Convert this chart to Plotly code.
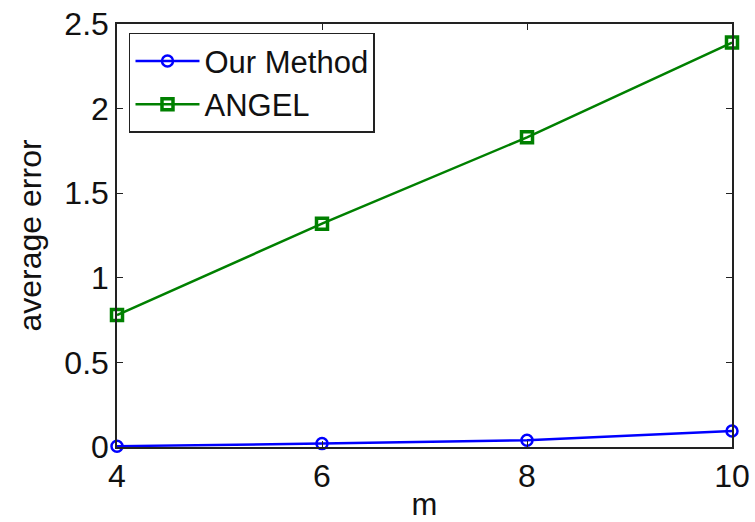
import plotly.graph_objects as go

m_values = [4, 6, 8, 10]
our_method = [0.005, 0.02, 0.04, 0.095]
angel = [0.78, 1.32, 1.83, 2.39]
y_ticks = [0, 0.5, 1, 1.5, 2, 2.5]
y_tick_text = ["0", "0.5", "1", "1.5", "2", "2.5"]
x_ticks = [4, 6, 8, 10]

fig = go.Figure()
fig.add_trace(go.Scatter(
    x=m_values, y=our_method, name="Our Method", mode="lines+markers",
    line=dict(color="#0000FF", width=2.5),
    marker=dict(symbol="circle-open", size=11, color="#0000FF", line=dict(width=2.5)),
    cliponaxis=False,
))
fig.add_trace(go.Scatter(
    x=m_values, y=angel, name="ANGEL", mode="lines+markers",
    line=dict(color="#008000", width=2.5),
    marker=dict(symbol="square-open", size=11, color="#008000", line=dict(width=3.5)),
    cliponaxis=False,
))

axis_common = dict(
    showgrid=False, zeroline=False, showline=True, linecolor="#222222", linewidth=1.5,
    mirror="allticks", ticks="inside", ticklen=6, tickwidth=1.2, tickcolor="#222222",
    tickfont=dict(family="Liberation Sans, Arial", size=32, color="#111111"),
    automargin=False,
)

fig.update_layout(
    width=755, height=522,
    margin=dict(l=117, r=23, t=24, b=75),
    paper_bgcolor="white", plot_bgcolor="white",
    font=dict(family="Liberation Sans, Arial", size=31, color="#111111"),
    xaxis=dict(range=[4, 10], tickvals=x_ticks,
               title=dict(text="m", font=dict(size=31), standoff=2), **axis_common),
    yaxis=dict(range=[0, 2.5], tickvals=y_ticks, ticktext=y_tick_text, **axis_common),
    legend=dict(x=0.0195, y=0.979, xanchor="left", yanchor="top",
                bgcolor="white", bordercolor="#222222", borderwidth=1.5,
                font=dict(size=31), tracegroupgap=0, itemwidth=64),
    showlegend=True,
    annotations=[dict(
        text="average error", xref="paper", yref="paper", x=-0.1415, y=0.5,
        xanchor="center", yanchor="middle", textangle=-90, showarrow=False,
        font=dict(family="Liberation Sans, Arial", size=32, color="#111111"),
    )],
)

fig.write_html("out.html")
